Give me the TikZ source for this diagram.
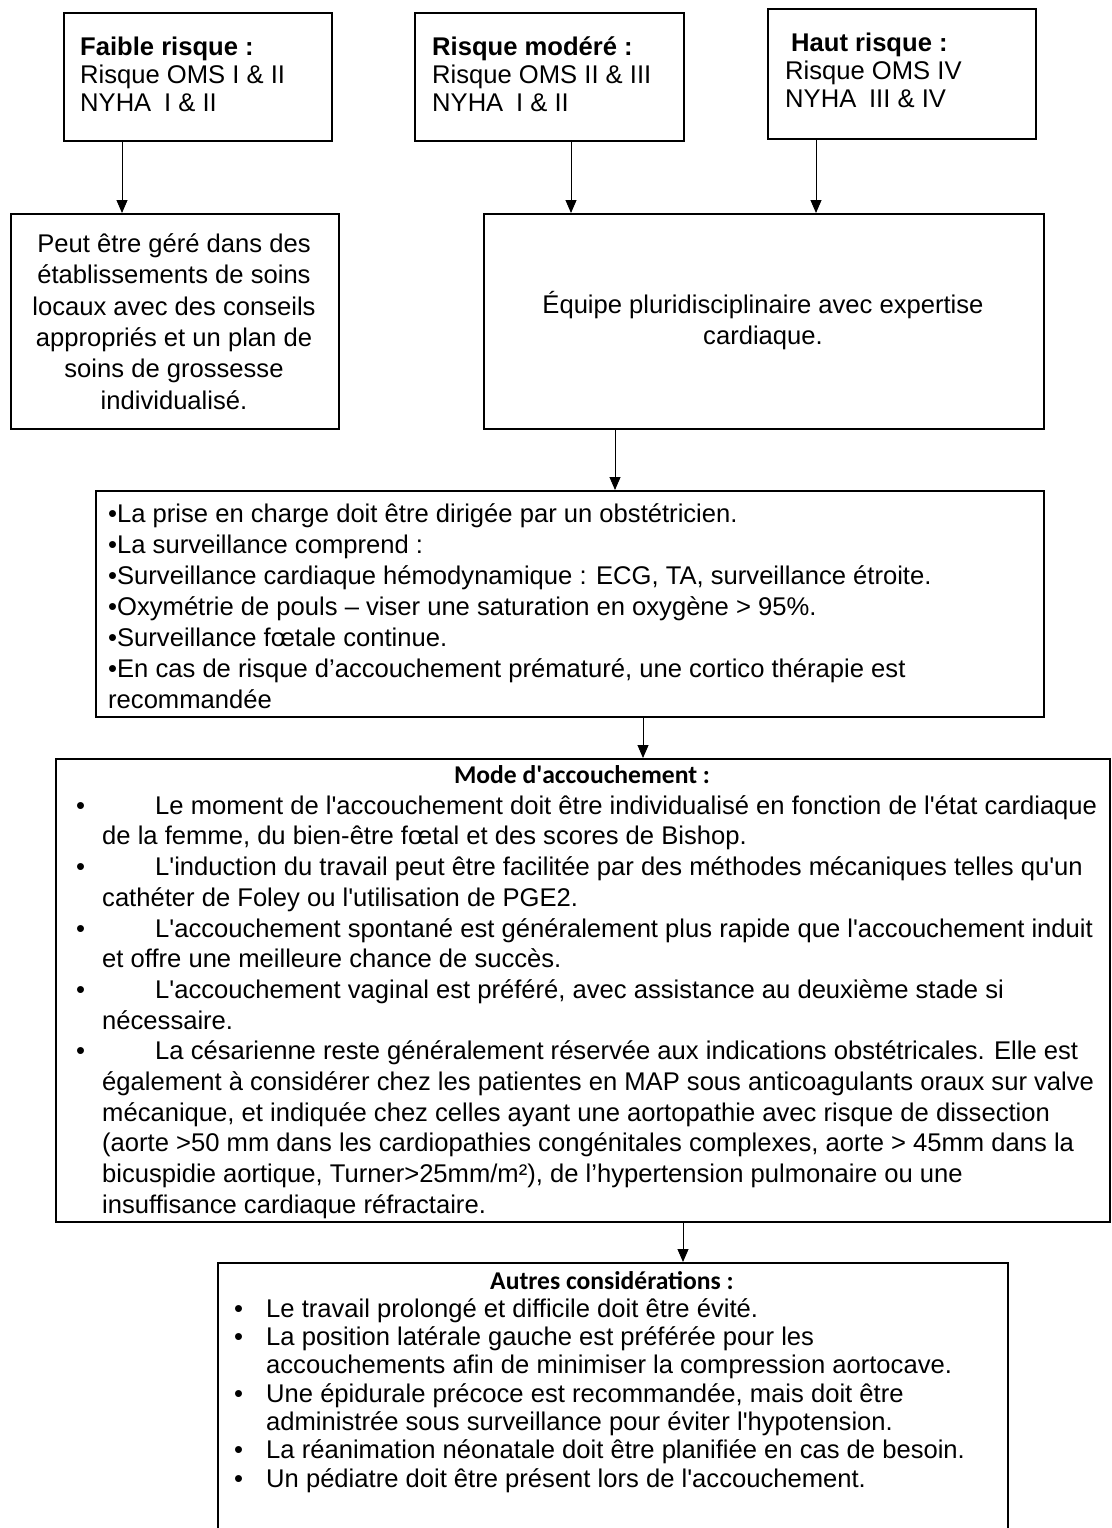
\documentclass[tikz,border=0pt]{standalone}
\usepackage{fontspec}
\setmainfont{Liberation Sans}
\newfontfamily\headfont{Carlito}
\usetikzlibrary{arrows.meta}

% sizes and small helpers for the text blocks
\newcommand\topsize{\fontsize{25.6pt}{28pt}\selectfont}
\newcommand\bodysize{\fontsize{25.6pt}{31pt}\selectfont}
\newcommand\peutsize{\fontsize{25.6pt}{31.4pt}\selectfont}
\newcommand\modesize{\fontsize{25.6pt}{30.7pt}\selectfont}
\newcommand\autressize{\fontsize{25.6pt}{28.3pt}\selectfont}
\newcommand\firstline{\rule{0pt}{22pt}}
\newcommand\sq{\textquotesingle}
\newcommand\bul[1]{\llap{•\hspace{#1}}}

\begin{document}
\begin{tikzpicture}[x=1pt,y=-1pt,
  box/.style={draw, line width=1.6pt, anchor=north west, inner sep=0pt},
  txt/.style={inner sep=0pt, font=\bodysize},
  head/.style={inner sep=0pt, anchor=base, font=\headfont\bfseries\fontsize{25.6pt}{30pt}\selectfont},
  link/.style={line width=0.9pt, -{Triangle[length=13pt,width=11pt]}},
]
\useasboundingbox (0,0) rectangle (1111,1528);

% risk level boxes
\node[box, minimum width=268pt, minimum height=128pt] (faible) at (63,12) {};
\node[box, minimum width=269pt, minimum height=128pt] (modere) at (414,12) {};
\node[box, minimum width=268pt, minimum height=130pt] (haut) at (767,8) {};

\node[txt, font=\topsize, anchor=north west, align=left] (faibletxt) at (80,33)
  {\firstline\textbf{Faible risque :}\\Risque OMS I \& II\\NYHA\enspace I \& II};
\node[txt, font=\topsize, anchor=north west, align=left] (moderetxt) at (432,33)
  {\firstline\textbf{Risque modéré :}\\Risque OMS II \& III\\NYHA\enspace I \& II};
\node[txt, font=\topsize, anchor=north west, align=left] (hauttxt) at (785,29)
  {\firstline\hspace*{6pt}\textbf{Haut risque :}\\Risque OMS IV\\NYHA\enspace III \& IV};

% care setting boxes
\node[box, minimum width=328pt, minimum height=215pt] (peut) at (10,213) {};
\node[box, minimum width=560pt, minimum height=215pt] (equipe) at (483,213) {};

\node[txt, font=\peutsize, anchor=north, align=center] (peuttxt) at (174,230)
  {\firstline Peut être géré dans des\\établissements de soins\\locaux avec des conseils\\appropriés et un plan de\\soins de grossesse\\individualisé.};
\node[txt, anchor=north, align=center] (equipetxt) at (763,291)
  {\firstline Équipe pluridisciplinaire avec expertise\\cardiaque.};

% management box
\node[box, minimum width=948pt, minimum height=226pt] (prise) at (95,490) {};
\node[txt, anchor=north west, align=left] (prisetxt) at (108,500)
  {\firstline •La prise en charge doit être dirigée par un obstétricien.\\
   •La surveillance comprend :\\
   •Surveillance cardiaque hémodynamique : ECG, TA, surveillance étroite.\\
   •Oxymétrie de pouls – viser une saturation en oxygène > 95\%.\\
   •Surveillance fœtale continue.\\
   •En cas de risque d’accouchement prématuré, une cortico thérapie est\\
   recommandée};

% mode of delivery box
\node[box, minimum width=1054pt, minimum height=463pt] (mode) at (55,758) {};
\node[head] (modetitle) at (582,783) {Mode d\sq accouchement :};
\node[txt, font=\modesize, anchor=north west, align=left] (modetxt) at (102,792)
  {\firstline\bul{17pt}\hspace*{53pt}Le moment de l\sq accouchement doit être individualisé en fonction de l\sq état cardiaque\\
   de la femme, du bien-être fœtal et des scores de Bishop.\\
   \bul{17pt}\hspace*{53pt}L\sq induction du travail peut être facilitée par des méthodes mécaniques telles qu\sq un\\
   cathéter de Foley ou l\sq utilisation de PGE2.\\
   \bul{17pt}\hspace*{53pt}L\sq accouchement spontané est généralement plus rapide que l\sq accouchement induit\\
   et offre une meilleure chance de succès.\\
   \bul{17pt}\hspace*{53pt}L\sq accouchement vaginal est préféré, avec assistance au deuxième stade si\\
   nécessaire.\\
   \bul{17pt}\hspace*{53pt}La césarienne reste généralement réservée aux indications obstétricales. Elle est\\
   également à considérer chez les patientes en MAP sous anticoagulants oraux sur valve\\
   mécanique, et indiquée chez celles ayant une aortopathie avec risque de dissection\\
   (aorte >50 mm dans les cardiopathies congénitales complexes, aorte > 45mm dans la\\
   bicuspidie aortique, Turner>25mm/m²), de l’hypertension pulmonaire ou une\\
   insuffisance cardiaque réfractaire.};

% other considerations box (runs past the lower edge)
\node[box, minimum width=790pt, minimum height=280pt] (autres) at (217,1262) {};
\node[head] (autrestitle) at (612,1289) {Autres considérations :};
\node[txt, font=\autressize, anchor=north west, align=left] (autrestxt) at (266,1295)
  {\firstline\bul{23pt}Le travail prolongé et difficile doit être évité.\\
   \bul{23pt}La position latérale gauche est préférée pour les\\
   accouchements afin de minimiser la compression aortocave.\\
   \bul{23pt}Une épidurale précoce est recommandée, mais doit être\\
   administrée sous surveillance pour éviter l\sq hypotension.\\
   \bul{23pt}La réanimation néonatale doit être planifiée en cas de besoin.\\
   \bul{23pt}Un pédiatre doit être présent lors de l\sq accouchement.};

% connectors
\coordinate (s1) at ([xshift=59pt]faible.south west);
\coordinate (s2) at ([xshift=157pt]modere.south west);
\coordinate (s3) at ([xshift=49pt]haut.south west);
\coordinate (s4) at ([xshift=132pt]equipe.south west);
\coordinate (s5) at ([xshift=548pt]prise.south west);
\coordinate (s6) at ([xshift=628pt]mode.south west);
\draw[link] (s1) -- (s1 |- peut.north);
\draw[link] (s2) -- (s2 |- equipe.north);
\draw[link] (s3) -- (s3 |- equipe.north);
\draw[link] (s4) -- (s4 |- prise.north);
\draw[link] (s5) -- (s5 |- mode.north);
\draw[link] (s6) -- (s6 |- autres.north);
\end{tikzpicture}
\end{document}
